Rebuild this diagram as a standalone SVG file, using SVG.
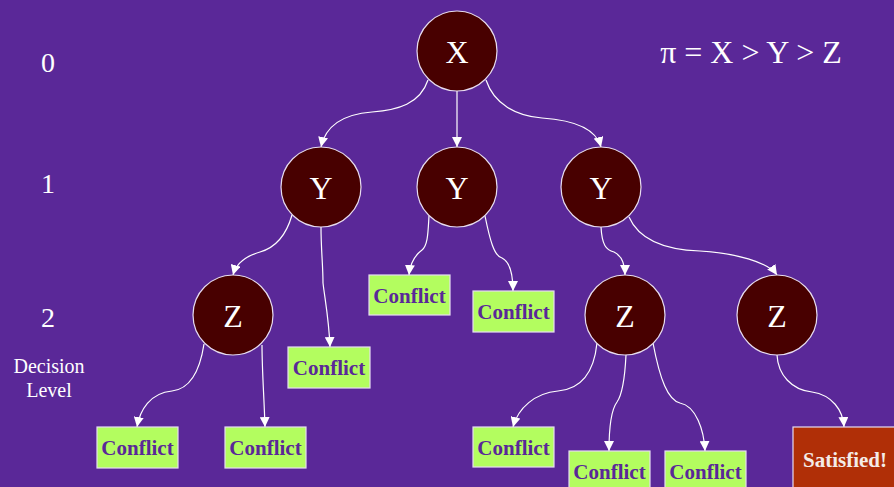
<svg xmlns="http://www.w3.org/2000/svg" width="894" height="487" viewBox="0 0 894 487">
<defs>
<style>
.bg{fill:#5a2898}
.node circle{fill:#480000;stroke:#e8dcef;stroke-width:1.2}
.node text{font-family:"Liberation Serif","Times New Roman",serif;font-size:32px;fill:#ffffff;text-anchor:middle}
.box rect{fill:#b3fd5f;stroke:#e6dcf2;stroke-width:1.2}
.box text{font-family:"Liberation Serif","Times New Roman",serif;font-weight:bold;font-size:21px;fill:#5a2898;text-anchor:middle}
.sat rect{fill:#b02f07;stroke:#e6dcf2;stroke-width:1.2}
.sat text{font-family:"Liberation Serif","Times New Roman",serif;font-weight:bold;font-size:21px;fill:#f4ece8;text-anchor:middle}
.lbl{font-family:"Liberation Serif","Times New Roman",serif;fill:#ffffff;text-anchor:middle}
.edges path{fill:none;stroke:#ffffff;stroke-width:1.2;marker-end:url(#ah)}
</style>
<marker id="ah" viewBox="0 0 10 10" refX="10" refY="5" markerWidth="10" markerHeight="10" markerUnits="userSpaceOnUse" orient="auto">
<path d="M0,0 L10,5 L0,10 Z" fill="#ffffff"/>
</marker>
</defs>
<rect class="bg" x="0" y="0" width="894" height="487"/>

<g id="labels">
<text class="lbl" x="48" y="72" font-size="28">0</text>
<text class="lbl" x="48" y="193" font-size="28">1</text>
<text class="lbl" x="48" y="327" font-size="28">2</text>
<text class="lbl" x="49" y="373" font-size="20">Decision</text>
<text class="lbl" x="49" y="397" font-size="20">Level</text>
<text class="lbl" x="751" y="63" font-size="32">π = X &gt; Y &gt; Z</text>
</g>

<g class="edges" id="connectors">
<path d="M428,80 C420,104 398,110 372,112 C346,114 326,124 321,147"/>
<path d="M457,91 L457,147"/>
<path d="M486,80 C494,104 516,116 542,118 C572,120 596,128 601,147"/>
<path d="M292,215 C286,236 274,248 260,252 C246,256 236,264 233,275"/>
<path d="M321,227 C321,250 323,265 323,283 C325,300 329,320 330,347"/>
<path d="M429,216 C428,232 428,245 422,250 C414,256 410,264 409,275"/>
<path d="M485,216 C490,240 494,256 502,258 C510,262 513,276 513,291"/>
<path d="M601,227 C602,245 606,250 614,252 C622,256 625,265 625,275"/>
<path d="M629,217 C640,242 670,250 700,251 C735,253 768,262 777,275"/>
<path d="M204,344 C200,370 190,389 172,391 C150,393 140,410 137,427"/>
<path d="M262,345 C262,370 264,395 265,427"/>
<path d="M597,343 C594,372 582,389 558,391 C535,393 518,408 513,427"/>
<path d="M626,355 C625,375 622,395 617,402 C611,410 609,430 609,451"/>
<path d="M653,343 C660,380 668,400 680,403 C696,406 704,430 705,451"/>
<path d="M777,355 C778,375 792,390 812,392 C832,395 843,410 844,427"/>
</g>

<g id="nX" class="node"><circle cx="457" cy="51" r="40"/><text x="457" y="63">X</text></g>
<g id="nY1" class="node"><circle cx="321" cy="187" r="40"/><text x="321" y="199">Y</text></g>
<g id="nY2" class="node"><circle cx="457" cy="187" r="40"/><text x="457" y="199">Y</text></g>
<g id="nY3" class="node"><circle cx="601" cy="187" r="40"/><text x="601" y="199">Y</text></g>
<g id="nZ1" class="node"><circle cx="233" cy="315" r="40"/><text x="233" y="327">Z</text></g>
<g id="nZ2" class="node"><circle cx="625" cy="315" r="40"/><text x="625" y="327">Z</text></g>
<g id="nZ3" class="node"><circle cx="777" cy="315" r="40"/><text x="777" y="327">Z</text></g>

<g id="cY1" class="box"><rect x="288" y="347" width="82" height="41"/><text x="329" y="375">Conflict</text></g>
<g id="cY2a" class="box"><rect x="369" y="275" width="81" height="40"/><text x="409.5" y="303">Conflict</text></g>
<g id="cY2b" class="box"><rect x="473" y="291" width="81" height="41"/><text x="513.5" y="319">Conflict</text></g>
<g id="cZ1a" class="box"><rect x="97" y="427" width="81" height="41"/><text x="137.5" y="455">Conflict</text></g>
<g id="cZ1b" class="box"><rect x="225" y="427" width="81" height="41"/><text x="265.5" y="455">Conflict</text></g>
<g id="cZ2a" class="box"><rect x="473" y="427" width="81" height="40"/><text x="513.5" y="455">Conflict</text></g>
<g id="cZ2b" class="box"><rect x="569" y="451" width="81" height="41"/><text x="609.5" y="479">Conflict</text></g>
<g id="cZ2c" class="box"><rect x="665" y="451" width="81" height="41"/><text x="705.5" y="479">Conflict</text></g>
<g id="sat" class="sat"><rect x="793" y="427" width="104" height="70"/><text x="845" y="467">Satisfied!</text></g>
</svg>
